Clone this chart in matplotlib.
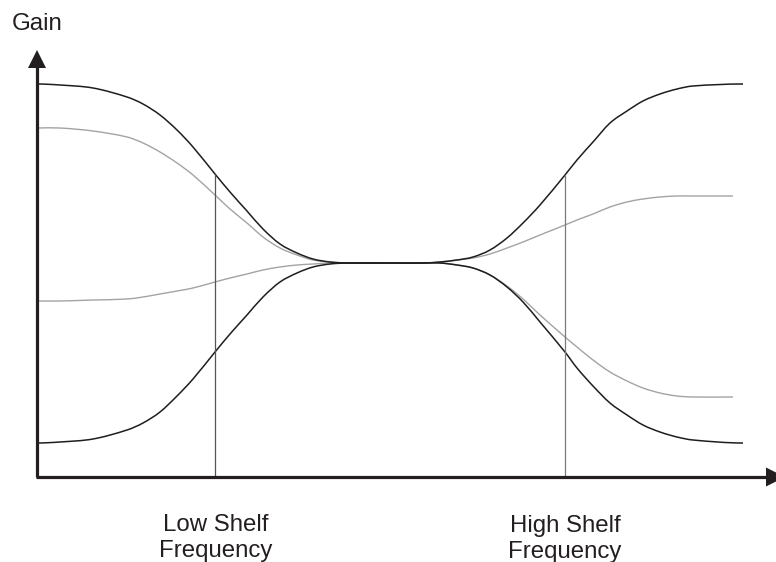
import numpy as np
import matplotlib
matplotlib.use("Agg")
import matplotlib.pyplot as plt
from matplotlib.path import Path
from matplotlib.patches import PathPatch, Polygon

# frequency positions (left edge of plot = 0) and gain (x axis = 0)
freq = [0, 23, 56, 90, 106, 123, 140, 156, 178, 193, 210, 226, 243, 260, 276, 293, 310,
        353, 386, 403, 420, 436, 453, 470, 486, 503, 528, 540, 556, 573, 590, 606, 623,
        640, 656, 706]
freq_gray = freq[:-1] + [696]

black_boost = [393, 392, 389, 380, 373, 362, 347, 330, 303, 285, 266, 248, 233, 224, 218,
               215, 214, 214, 214, 215, 217, 220, 227, 239, 254, 272, 302, 317, 335, 354,
               366, 376, 383, 388, 391, 393]
black_cut = [34, 35, 38, 47, 54, 65, 81, 98, 125, 143, 162, 180, 195, 204, 210, 213, 214,
             214, 214, 214, 212, 209, 202, 190, 175, 155, 125, 109, 91, 74, 62, 52, 45, 40,
             37, 34]
gray_boost = [349, 349, 346, 340, 334, 325, 314, 302, 282, 268, 254, 240, 229, 222, 217,
              215, 214, 214, 214, 215, 217, 219, 223, 229, 235, 242, 252, 257, 263, 270,
              275, 278, 280, 281, 281, 281]
gray_cut = [176, 176, 177, 178, 180, 183, 186, 189, 195, 199, 203, 207, 210, 212, 213, 214,
            214, 214, 214, 214, 212, 209, 202, 191, 178, 162, 140, 130, 117, 105, 96, 89,
            84, 81, 80, 80]

shelf_freq = [178, 528]
shelf_top = [303, 302]
labels = [["Low Shelf", "Frequency"], ["High Shelf", "Frequency"]]
label_x = [179, 528]
label_y = [[-54, -80], [-55, -81]]

ink = "#231f20"


def smooth_path(xs, ys):
    # cubic hermite through the read points (slopes from neighbours), as bezier segments
    x = np.asarray(xs, float)
    y = np.asarray(ys, float)
    n = len(x)
    m = np.zeros(n)
    for i in range(1, n - 1):
        m[i] = (y[i + 1] - y[i - 1]) / (x[i + 1] - x[i - 1])
    verts = [(x[0], y[0])]
    codes = [Path.MOVETO]
    for i in range(n - 1):
        h = (x[i + 1] - x[i]) / 3.0
        verts += [(x[i] + h, y[i] + m[i] * h),
                  (x[i + 1] - h, y[i + 1] - m[i + 1] * h),
                  (x[i + 1], y[i + 1])]
        codes += [Path.CURVE4] * 3
    return Path(verts, codes)


fig = plt.figure(figsize=(7.76, 5.62), dpi=100)
ax = fig.add_axes([0, 0, 1, 1])
ax.set_xlim(-37, 739)
ax.set_ylim(-85, 477)
ax.axis("off")

for xs, ys, col, lw in [(freq_gray, gray_boost, "#a3a3a3", 1.0),
                        (freq_gray, gray_cut, "#a3a3a3", 1.0),
                        (freq, black_boost, "#1e1e1e", 1.1),
                        (freq, black_cut, "#1e1e1e", 1.1)]:
    ax.add_patch(PathPatch(smooth_path(xs, ys), facecolor="none",
                           edgecolor=col, lw=lw, capstyle="butt"))

ax.vlines(shelf_freq, 0, shelf_top, colors=["#555555", "#7a7a7a"], lw=0.9)

# axes with arrow heads
ax.plot([0, 0], [0, 412], color=ink, lw=2.3, solid_capstyle="butt")
ax.plot([-1.5, 730], [0, 0], color=ink, lw=2.3, solid_capstyle="butt")
ax.add_patch(Polygon([[-9, 409], [9, 409], [0, 427]], closed=True,
                     facecolor=ink, edgecolor="none"))
ax.add_patch(Polygon([[729, 9.5], [729, -9.5], [748, 0]], closed=True,
                     facecolor=ink, edgecolor="none", clip_on=False))

font = dict(family="Liberation Sans", fontsize=17.3, color=ink)
ax.text(-25, 447, "Gain", ha="left", va="baseline", **font)
for lx, ly, lines in zip(label_x, label_y, labels):
    for yy, s in zip(ly, lines):
        ax.text(lx, yy, s, ha="center", va="baseline", **font)

fig.savefig("out.png", dpi=100)
